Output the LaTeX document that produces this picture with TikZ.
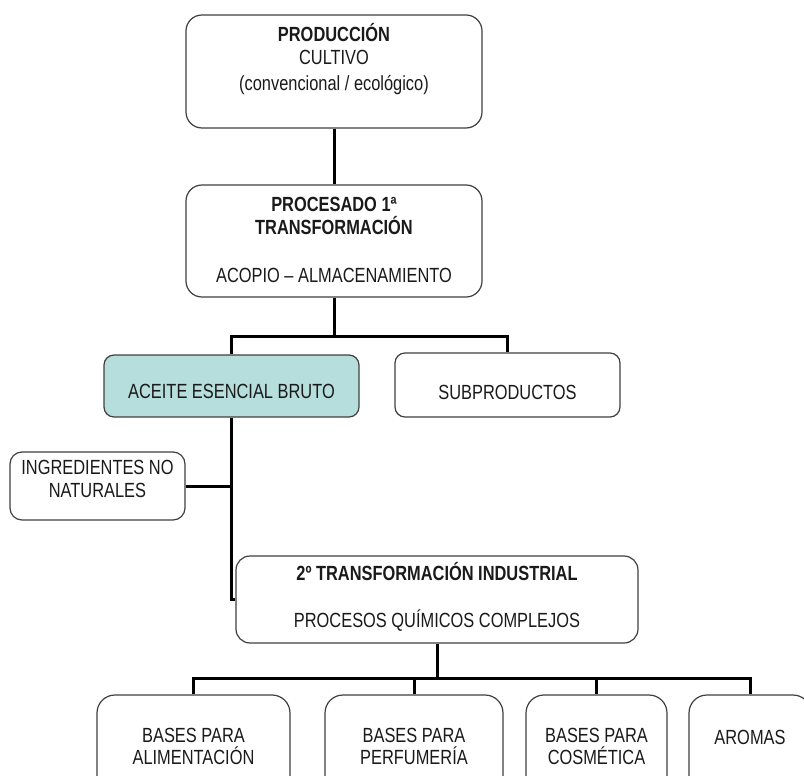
\documentclass[tikz,border=0pt]{standalone}
\usepackage{fontspec}
\setmainfont{Liberation Sans}[FakeStretch=0.8]
\definecolor{boxline}{HTML}{404040}
\definecolor{tealfill}{HTML}{B6DEDD}
\definecolor{txtcol}{HTML}{1A1A1A}
\tikzset{
  box/.style={draw=boxline, line width=1.2pt, fill=white, inner sep=0pt, rounded corners=#1},
  box/.default=15pt,
  txt/.style={text=txtcol, align=center, inner sep=0pt, font=\fontsize{20.5pt}{22.5pt}\selectfont},
  conn/.style={draw=black, line width=3pt}
}
\begin{document}
\begin{tikzpicture}[x=1pt,y=-1pt]
\useasboundingbox (0,0) rectangle (804,776);
\clip (0,0) rectangle (804,776);
\fill[white] (0,0) rectangle (804,776);

% boxes
\node[box=16pt, minimum width=296pt, minimum height=113pt] (b1) at (334,71.5) {};
\node[box=16pt, minimum width=296pt, minimum height=112pt] (b2) at (334,241) {};
\node[box=10pt, fill=tealfill, minimum width=255pt, minimum height=62pt] (ace) at (231.5,386) {};
\node[box=10pt, minimum width=225pt, minimum height=64pt] (sub) at (507.5,385) {};
\node[box=12pt, minimum width=175pt, minimum height=68pt] (ing) at (97.5,486) {};
\node[box=14pt, minimum width=402pt, minimum height=87pt] (b4) at (437,599.5) {};
\node[box=18pt, minimum width=193pt, minimum height=100pt] (ba) at (193.5,745) {};
\node[box=18pt, minimum width=178pt, minimum height=100pt] (bb) at (414,745) {};
\node[box=18pt, minimum width=141pt, minimum height=100pt] (bc) at (596.5,745) {};
\node[box=18pt, minimum width=122pt, minimum height=100pt] (bd) at (750,745) {};

% texts
\node[txt] (t1) at (334,59) {\textbf{PRODUCCIÓN}\\[1pt]CULTIVO\\[3pt](convencional / ecológico)};
\node[txt] (t2) at (334,240) {\textbf{PROCESADO 1ª}\\\textbf{TRANSFORMACIÓN}\\[26pt]ACOPIO – ALMACENAMIENTO};
\node[txt] (tace) at (231.5,391) {ACEITE ESENCIAL BRUTO};
\node[txt] (tsub) at (507.5,392) {SUBPRODUCTOS};
\node[txt] (ting) at (97.5,479) {INGREDIENTES NO\\NATURALES};
\node[txt] (t4) at (437,596.5) {\textbf{2º TRANSFORMACIÓN INDUSTRIAL}\\[24.5pt]PROCESOS QUÍMICOS COMPLEJOS};
\node[txt] (tba) at (193.5,746.5) {BASES PARA\\ALIMENTACIÓN};
\node[txt] (tbb) at (414,746.5) {BASES PARA\\PERFUMERÍA};
\node[txt] (tbc) at (596.5,746.5) {BASES PARA\\COSMÉTICA};
\node[txt] (tbd) at (750,737) {AROMAS};

% connectors
\coordinate (j1) at (334,336);
\coordinate (j2) at (437,678);
\draw[conn] (b1.south) -- (b2.north);
\draw[conn] (b2.south) -- (j1);
\draw[conn] (ace.north) |- (j1) -| (sub.north);
\draw[conn] (ace.south) |- (b4.west);
\draw[conn] (ing.east) -- (ing.east -| ace.south);
\draw[conn] (b4.south) -- (j2);
\draw[conn] (ba.north) |- (j2) -| (bd.north);
\draw[conn] (bb.north) -- (bb.north |- j2);
\draw[conn] (bc.north) -- (bc.north |- j2);
\end{tikzpicture}
\end{document}
